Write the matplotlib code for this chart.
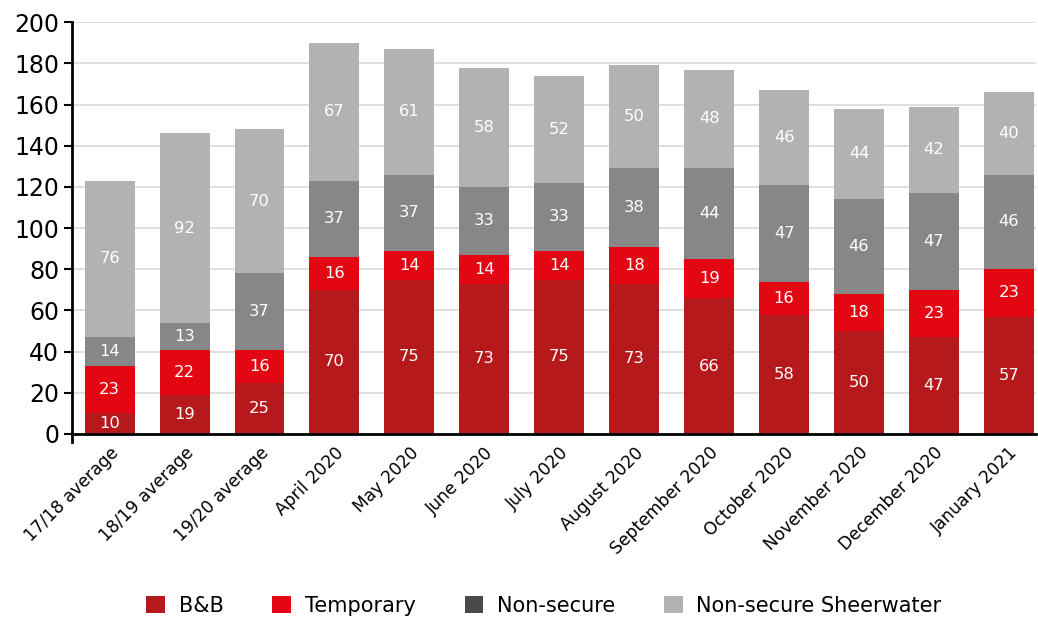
import numpy as np
import matplotlib
matplotlib.use("Agg")
import matplotlib.pyplot as plt
from matplotlib.patches import Patch

# data
categories = ["17/18 average", "18/19 average", "19/20 average", "April 2020",
              "May 2020", "June 2020", "July 2020", "August 2020",
              "September 2020", "October 2020", "November 2020",
              "December 2020", "January 2021"]
bnb = [10, 19, 25, 70, 75, 73, 75, 73, 66, 58, 50, 47, 57]
temporary = [23, 22, 16, 16, 14, 14, 14, 18, 19, 16, 18, 23, 23]
non_secure = [14, 13, 37, 37, 37, 33, 33, 38, 44, 47, 46, 47, 46]
sheerwater = [76, 92, 70, 67, 61, 58, 52, 50, 48, 46, 44, 42, 40]

series = [("B&B", bnb, "#B5191B", "#B5191B"),
          ("Temporary", temporary, "#E30613", "#E30613"),
          ("Non-secure", non_secure, "#878787", "#4A4A4A"),
          ("Non-secure Sheerwater", sheerwater, "#B2B2B2", "#B2B2B2")]

plt.rcParams['font.family'] = ['DejaVu Sans']

fig = plt.figure(figsize=(10.38, 6.17), dpi=100)
ax = fig.add_axes([0.069, 0.2966, 0.929, 0.6674])

x = np.arange(len(categories))
bottom = np.zeros(len(categories))
for name, vals, col, _ in series:
    vals = np.array(vals, dtype=float)
    ax.bar(x, vals, 0.667, bottom=bottom, color=col, zorder=2)
    for xi, b, v in zip(x, bottom, vals):
        ax.text(xi, b + v / 2, f"{int(v)}", ha="center", va="center",
                color="white", fontsize=11.8, zorder=3)
    bottom += vals

ax.set_xlim(-0.507, 12.36)
ax.set_yticks(range(0, 201, 20))
ax.tick_params(axis="y", labelsize=17, length=6, width=1.5, direction="out", pad=3)
ax.tick_params(axis="x", length=0, labelsize=12.3, pad=7)
ax.set_xticks(x)
ax.set_xticklabels(categories, rotation=45, ha="right", rotation_mode="anchor")
ax.grid(axis="y", color="#D9D9D9", linewidth=1.2, zorder=0)
ax.set_axisbelow(True)
for s in ["top", "right"]:
    ax.spines[s].set_visible(False)
ax.spines["left"].set_linewidth(2)
ax.spines["bottom"].set_linewidth(2)
ax.spines["left"].set_bounds(-4, 200)
ax.set_ylim(-0.01, 200)

handles = [Patch(facecolor=lc, label=name) for name, _, _, lc in series]
fig.legend(handles=handles, loc="center", ncol=4, frameon=False,
           bbox_to_anchor=(0.524, 0.018), handlelength=0.9,
           handleheight=0.9, columnspacing=2.35, handletextpad=0.65,
           prop={'family': ['DejaVu Sans'], 'size': 15})

fig.savefig("out.png", dpi=100)
